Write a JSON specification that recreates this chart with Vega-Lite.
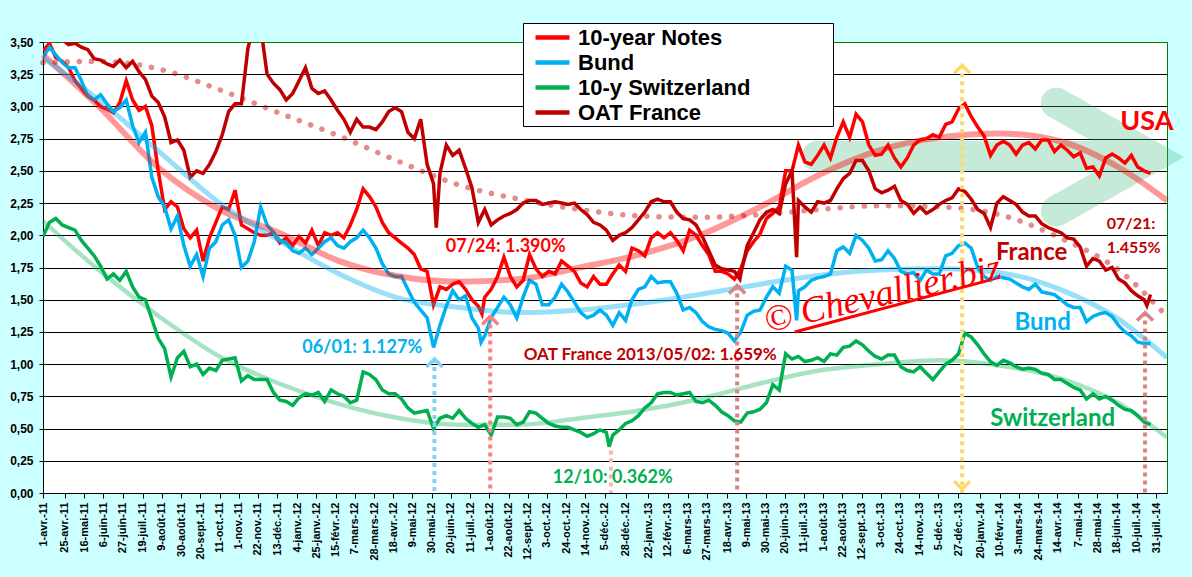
{
  "$schema": "https://vega.github.io/schema/vega-lite/v6.json",
  "width": 1124,
  "height": 451,
  "autosize": {"type": "none"},
  "padding": {"left": 43, "top": 42, "right": 25, "bottom": 84},
  "background": "#CCFFFF",
  "datasets": {
    "us": [
      {"d":"2011-04-01","v":3.43},{"d":"2011-04-08","v":3.49},{"d":"2011-04-15","v":3.38},{"d":"2011-04-22","v":3.35},{"d":"2011-04-29","v":3.30},{"d":"2011-05-06","v":3.20},{"d":"2011-05-13","v":3.14},{"d":"2011-05-20","v":3.08},{"d":"2011-05-27","v":3.05},{"d":"2011-06-03","v":3.00},
      {"d":"2011-06-10","v":2.98},{"d":"2011-06-17","v":2.95},{"d":"2011-06-24","v":3.03},{"d":"2011-07-01","v":3.20},{"d":"2011-07-08","v":3.05},{"d":"2011-07-15","v":2.97},{"d":"2011-07-22","v":3.00},{"d":"2011-07-29","v":2.85},{"d":"2011-08-05","v":2.50},{"d":"2011-08-12","v":2.20},
      {"d":"2011-08-19","v":2.26},{"d":"2011-08-26","v":2.22},{"d":"2011-09-02","v":2.05},{"d":"2011-09-09","v":1.98},{"d":"2011-09-16","v":2.04},{"d":"2011-09-23","v":1.80},{"d":"2011-09-30","v":1.98},{"d":"2011-10-07","v":2.10},{"d":"2011-10-14","v":2.22},{"d":"2011-10-21","v":2.20},
      {"d":"2011-10-28","v":2.35},{"d":"2011-11-04","v":2.08},{"d":"2011-11-11","v":2.05},{"d":"2011-11-18","v":2.02},{"d":"2011-11-25","v":2.00},{"d":"2011-12-02","v":2.00},{"d":"2011-12-09","v":2.02},{"d":"2011-12-16","v":1.94},{"d":"2011-12-23","v":1.98},{"d":"2011-12-30","v":1.92},
      {"d":"2012-01-06","v":1.99},{"d":"2012-01-13","v":1.94},{"d":"2012-01-20","v":2.04},{"d":"2012-01-27","v":1.92},{"d":"2012-02-03","v":2.02},{"d":"2012-02-10","v":2.00},{"d":"2012-02-17","v":2.02},{"d":"2012-02-24","v":1.98},{"d":"2012-03-02","v":2.08},{"d":"2012-03-09","v":2.20},
      {"d":"2012-03-16","v":2.36},{"d":"2012-03-23","v":2.30},{"d":"2012-03-30","v":2.22},{"d":"2012-04-06","v":2.10},{"d":"2012-04-13","v":2.02},{"d":"2012-04-20","v":1.98},{"d":"2012-04-27","v":1.94},{"d":"2012-05-04","v":1.90},{"d":"2012-05-11","v":1.85},{"d":"2012-05-18","v":1.74},
      {"d":"2012-05-25","v":1.72},{"d":"2012-06-01","v":1.46},{"d":"2012-06-08","v":1.60},{"d":"2012-06-15","v":1.58},{"d":"2012-06-22","v":1.62},{"d":"2012-06-29","v":1.64},{"d":"2012-07-06","v":1.58},{"d":"2012-07-13","v":1.50},{"d":"2012-07-20","v":1.45},{"d":"2012-07-27","v":1.52},
      {"d":"2012-08-03","v":1.58},{"d":"2012-08-10","v":1.68},{"d":"2012-08-17","v":1.83},{"d":"2012-08-24","v":1.68},{"d":"2012-08-31","v":1.60},{"d":"2012-09-07","v":1.65},{"d":"2012-09-14","v":1.85},{"d":"2012-09-21","v":1.74},{"d":"2012-09-28","v":1.68},{"d":"2012-10-05","v":1.72},
      {"d":"2012-10-12","v":1.70},{"d":"2012-10-19","v":1.80},{"d":"2012-10-26","v":1.76},{"d":"2012-11-02","v":1.72},{"d":"2012-11-09","v":1.63},{"d":"2012-11-16","v":1.60},{"d":"2012-11-23","v":1.68},{"d":"2012-11-30","v":1.62},{"d":"2012-12-07","v":1.62},{"d":"2012-12-14","v":1.70},
      {"d":"2012-12-21","v":1.77},{"d":"2012-12-28","v":1.72},{"d":"2013-01-04","v":1.90},{"d":"2013-01-11","v":1.88},{"d":"2013-01-18","v":1.84},{"d":"2013-01-25","v":1.98},{"d":"2013-02-01","v":2.02},{"d":"2013-02-08","v":1.98},{"d":"2013-02-15","v":2.02},{"d":"2013-02-22","v":1.96},
      {"d":"2013-03-01","v":1.88},{"d":"2013-03-08","v":2.04},{"d":"2013-03-15","v":2.00},{"d":"2013-03-22","v":1.92},{"d":"2013-03-29","v":1.85},{"d":"2013-04-05","v":1.72},{"d":"2013-04-12","v":1.72},{"d":"2013-04-19","v":1.70},{"d":"2013-04-26","v":1.66},{"d":"2013-05-03","v":1.74},
      {"d":"2013-05-10","v":1.88},{"d":"2013-05-17","v":1.95},{"d":"2013-05-24","v":2.01},{"d":"2013-05-31","v":2.13},{"d":"2013-06-07","v":2.17},{"d":"2013-06-14","v":2.22},{"d":"2013-06-21","v":2.50},{"d":"2013-06-28","v":2.50},{"d":"2013-07-05","v":2.70},{"d":"2013-07-12","v":2.57},
      {"d":"2013-07-19","v":2.55},{"d":"2013-07-26","v":2.62},{"d":"2013-08-02","v":2.70},{"d":"2013-08-09","v":2.60},{"d":"2013-08-16","v":2.76},{"d":"2013-08-23","v":2.88},{"d":"2013-08-30","v":2.76},{"d":"2013-09-06","v":2.94},{"d":"2013-09-13","v":2.88},{"d":"2013-09-20","v":2.70},
      {"d":"2013-09-27","v":2.62},{"d":"2013-10-04","v":2.63},{"d":"2013-10-11","v":2.70},{"d":"2013-10-18","v":2.60},{"d":"2013-10-25","v":2.53},{"d":"2013-11-01","v":2.60},{"d":"2013-11-08","v":2.70},{"d":"2013-11-15","v":2.74},{"d":"2013-11-22","v":2.75},{"d":"2013-11-29","v":2.78},
      {"d":"2013-12-06","v":2.76},{"d":"2013-12-13","v":2.86},{"d":"2013-12-20","v":2.88},{"d":"2013-12-27","v":2.98},{"d":"2014-01-03","v":3.02},{"d":"2014-01-10","v":2.92},{"d":"2014-01-17","v":2.84},{"d":"2014-01-24","v":2.77},{"d":"2014-01-31","v":2.62},{"d":"2014-02-07","v":2.70},
      {"d":"2014-02-14","v":2.73},{"d":"2014-02-21","v":2.70},{"d":"2014-02-28","v":2.63},{"d":"2014-03-07","v":2.70},{"d":"2014-03-14","v":2.72},{"d":"2014-03-21","v":2.67},{"d":"2014-03-28","v":2.74},{"d":"2014-04-04","v":2.74},{"d":"2014-04-11","v":2.65},{"d":"2014-04-18","v":2.70},
      {"d":"2014-04-25","v":2.66},{"d":"2014-05-02","v":2.61},{"d":"2014-05-09","v":2.64},{"d":"2014-05-16","v":2.52},{"d":"2014-05-23","v":2.53},{"d":"2014-05-30","v":2.46},{"d":"2014-06-06","v":2.60},{"d":"2014-06-13","v":2.63},{"d":"2014-06-20","v":2.60},{"d":"2014-06-27","v":2.56},
      {"d":"2014-07-04","v":2.62},{"d":"2014-07-11","v":2.53},{"d":"2014-07-18","v":2.50},{"d":"2014-07-25","v":2.48},
      {"d":"2012-07-24","v":1.39}
    ],
    "de": [
      {"d":"2011-04-01","v":3.38},{"d":"2011-04-08","v":3.46},{"d":"2011-04-15","v":3.40},{"d":"2011-04-22","v":3.34},{"d":"2011-04-29","v":3.30},{"d":"2011-05-06","v":3.30},{"d":"2011-05-13","v":3.20},{"d":"2011-05-20","v":3.08},{"d":"2011-05-27","v":3.05},{"d":"2011-06-03","v":3.09},
      {"d":"2011-06-10","v":3.02},{"d":"2011-06-17","v":2.96},{"d":"2011-06-24","v":2.99},{"d":"2011-07-01","v":3.05},{"d":"2011-07-08","v":2.85},{"d":"2011-07-15","v":2.72},{"d":"2011-07-22","v":2.80},{"d":"2011-07-29","v":2.45},{"d":"2011-08-05","v":2.30},{"d":"2011-08-12","v":2.22},
      {"d":"2011-08-19","v":2.05},{"d":"2011-08-26","v":2.15},{"d":"2011-09-02","v":1.92},{"d":"2011-09-09","v":1.76},{"d":"2011-09-16","v":1.85},{"d":"2011-09-23","v":1.68},{"d":"2011-09-30","v":1.90},{"d":"2011-10-07","v":1.95},{"d":"2011-10-14","v":2.08},{"d":"2011-10-21","v":2.12},
      {"d":"2011-10-28","v":2.00},{"d":"2011-11-04","v":1.75},{"d":"2011-11-11","v":1.80},{"d":"2011-11-18","v":1.95},{"d":"2011-11-25","v":2.22},{"d":"2011-12-02","v":2.08},{"d":"2011-12-09","v":2.02},{"d":"2011-12-16","v":1.96},{"d":"2011-12-23","v":1.94},{"d":"2011-12-30","v":1.88},
      {"d":"2012-01-06","v":1.86},{"d":"2012-01-13","v":1.90},{"d":"2012-01-20","v":1.85},{"d":"2012-01-27","v":1.90},{"d":"2012-02-03","v":1.95},{"d":"2012-02-10","v":1.98},{"d":"2012-02-17","v":1.92},{"d":"2012-02-24","v":1.90},{"d":"2012-03-02","v":1.95},{"d":"2012-03-09","v":1.98},
      {"d":"2012-03-16","v":2.04},{"d":"2012-03-23","v":1.98},{"d":"2012-03-30","v":1.90},{"d":"2012-04-06","v":1.78},{"d":"2012-04-13","v":1.70},{"d":"2012-04-20","v":1.68},{"d":"2012-04-27","v":1.68},{"d":"2012-05-04","v":1.58},{"d":"2012-05-11","v":1.48},{"d":"2012-05-18","v":1.42},
      {"d":"2012-05-25","v":1.36},{"d":"2012-06-01","v":1.13},{"d":"2012-06-08","v":1.30},{"d":"2012-06-15","v":1.45},{"d":"2012-06-22","v":1.57},{"d":"2012-06-29","v":1.50},{"d":"2012-07-06","v":1.53},{"d":"2012-07-13","v":1.36},{"d":"2012-07-20","v":1.28},{"d":"2012-07-27","v":1.22},
      {"d":"2012-08-03","v":1.36},{"d":"2012-08-10","v":1.44},{"d":"2012-08-17","v":1.52},{"d":"2012-08-24","v":1.46},{"d":"2012-08-31","v":1.36},{"d":"2012-09-07","v":1.52},{"d":"2012-09-14","v":1.65},{"d":"2012-09-21","v":1.62},{"d":"2012-09-28","v":1.46},{"d":"2012-10-05","v":1.46},
      {"d":"2012-10-12","v":1.52},{"d":"2012-10-19","v":1.62},{"d":"2012-10-26","v":1.56},{"d":"2012-11-02","v":1.48},{"d":"2012-11-09","v":1.40},{"d":"2012-11-16","v":1.36},{"d":"2012-11-23","v":1.38},{"d":"2012-11-30","v":1.42},{"d":"2012-12-07","v":1.38},{"d":"2012-12-14","v":1.30},
      {"d":"2012-12-21","v":1.40},{"d":"2012-12-28","v":1.34},{"d":"2013-01-04","v":1.50},{"d":"2013-01-11","v":1.58},{"d":"2013-01-18","v":1.60},{"d":"2013-01-25","v":1.68},{"d":"2013-02-01","v":1.63},{"d":"2013-02-08","v":1.64},{"d":"2013-02-15","v":1.64},{"d":"2013-02-22","v":1.55},
      {"d":"2013-03-01","v":1.42},{"d":"2013-03-08","v":1.44},{"d":"2013-03-15","v":1.40},{"d":"2013-03-22","v":1.33},{"d":"2013-03-29","v":1.29},{"d":"2013-04-05","v":1.27},{"d":"2013-04-12","v":1.26},{"d":"2013-04-19","v":1.24},{"d":"2013-04-26","v":1.18},{"d":"2013-05-03","v":1.25},
      {"d":"2013-05-10","v":1.38},{"d":"2013-05-17","v":1.41},{"d":"2013-05-24","v":1.42},{"d":"2013-05-31","v":1.52},{"d":"2013-06-07","v":1.60},{"d":"2013-06-14","v":1.55},{"d":"2013-06-21","v":1.76},{"d":"2013-06-28","v":1.73},{"d":"2013-07-05","v":1.57},{"d":"2013-07-12","v":1.60},
      {"d":"2013-07-19","v":1.65},{"d":"2013-07-26","v":1.67},{"d":"2013-08-02","v":1.68},{"d":"2013-08-09","v":1.70},{"d":"2013-08-16","v":1.88},{"d":"2013-08-23","v":1.91},{"d":"2013-08-30","v":1.86},{"d":"2013-09-06","v":2.00},{"d":"2013-09-13","v":1.96},{"d":"2013-09-20","v":1.90},
      {"d":"2013-09-27","v":1.80},{"d":"2013-10-04","v":1.81},{"d":"2013-10-11","v":1.88},{"d":"2013-10-18","v":1.82},{"d":"2013-10-25","v":1.72},{"d":"2013-11-01","v":1.70},{"d":"2013-11-08","v":1.71},{"d":"2013-11-15","v":1.65},{"d":"2013-11-22","v":1.73},{"d":"2013-11-29","v":1.70},
      {"d":"2013-12-06","v":1.70},{"d":"2013-12-13","v":1.84},{"d":"2013-12-20","v":1.86},{"d":"2013-12-27","v":1.92},{"d":"2014-01-03","v":1.94},{"d":"2014-01-10","v":1.90},{"d":"2014-01-17","v":1.75},{"d":"2014-01-24","v":1.68},{"d":"2014-01-31","v":1.65},{"d":"2014-02-07","v":1.68},
      {"d":"2014-02-14","v":1.67},{"d":"2014-02-21","v":1.66},{"d":"2014-02-28","v":1.63},{"d":"2014-03-07","v":1.60},{"d":"2014-03-14","v":1.58},{"d":"2014-03-21","v":1.62},{"d":"2014-03-28","v":1.56},{"d":"2014-04-04","v":1.55},{"d":"2014-04-11","v":1.54},{"d":"2014-04-18","v":1.50},
      {"d":"2014-04-25","v":1.46},{"d":"2014-05-02","v":1.44},{"d":"2014-05-09","v":1.44},{"d":"2014-05-16","v":1.33},{"d":"2014-05-23","v":1.37},{"d":"2014-05-30","v":1.39},{"d":"2014-06-06","v":1.40},{"d":"2014-06-13","v":1.37},{"d":"2014-06-20","v":1.30},{"d":"2014-06-27","v":1.25},
      {"d":"2014-07-04","v":1.22},{"d":"2014-07-11","v":1.17},{"d":"2014-07-18","v":1.16},{"d":"2014-07-25","v":1.16},
      {"d":"2012-07-23","v":1.17},{"d":"2013-07-03","v":1.34}
    ],
    "ch": [
      {"d":"2011-04-01","v":1.99},{"d":"2011-04-08","v":2.10},{"d":"2011-04-15","v":2.13},{"d":"2011-04-22","v":2.08},{"d":"2011-04-29","v":2.06},{"d":"2011-05-06","v":2.04},{"d":"2011-05-13","v":1.96},{"d":"2011-05-20","v":1.90},{"d":"2011-05-27","v":1.84},{"d":"2011-06-03","v":1.76},
      {"d":"2011-06-10","v":1.66},{"d":"2011-06-17","v":1.70},{"d":"2011-06-24","v":1.65},{"d":"2011-07-01","v":1.72},{"d":"2011-07-08","v":1.60},{"d":"2011-07-15","v":1.52},{"d":"2011-07-22","v":1.50},{"d":"2011-07-29","v":1.35},{"d":"2011-08-05","v":1.20},{"d":"2011-08-12","v":1.12},
      {"d":"2011-08-19","v":0.90},{"d":"2011-08-26","v":1.05},{"d":"2011-09-02","v":1.10},{"d":"2011-09-09","v":0.98},{"d":"2011-09-16","v":1.00},{"d":"2011-09-23","v":0.92},{"d":"2011-09-30","v":0.97},{"d":"2011-10-07","v":0.95},{"d":"2011-10-14","v":1.03},{"d":"2011-10-21","v":1.04},
      {"d":"2011-10-28","v":1.05},{"d":"2011-11-04","v":0.87},{"d":"2011-11-11","v":0.91},{"d":"2011-11-18","v":0.88},{"d":"2011-11-25","v":0.88},{"d":"2011-12-02","v":0.88},{"d":"2011-12-09","v":0.78},{"d":"2011-12-16","v":0.72},{"d":"2011-12-23","v":0.71},{"d":"2011-12-30","v":0.68},
      {"d":"2012-01-06","v":0.74},{"d":"2012-01-13","v":0.77},{"d":"2012-01-20","v":0.76},{"d":"2012-01-27","v":0.78},{"d":"2012-02-03","v":0.71},{"d":"2012-02-10","v":0.80},{"d":"2012-02-17","v":0.77},{"d":"2012-02-24","v":0.75},{"d":"2012-03-02","v":0.70},{"d":"2012-03-09","v":0.72},
      {"d":"2012-03-16","v":0.94},{"d":"2012-03-23","v":0.92},{"d":"2012-03-30","v":0.88},{"d":"2012-04-06","v":0.80},{"d":"2012-04-13","v":0.77},{"d":"2012-04-20","v":0.77},{"d":"2012-04-27","v":0.73},{"d":"2012-05-04","v":0.66},{"d":"2012-05-11","v":0.62},{"d":"2012-05-18","v":0.63},
      {"d":"2012-05-25","v":0.64},{"d":"2012-06-01","v":0.50},{"d":"2012-06-08","v":0.58},{"d":"2012-06-15","v":0.60},{"d":"2012-06-22","v":0.58},{"d":"2012-06-29","v":0.64},{"d":"2012-07-06","v":0.58},{"d":"2012-07-13","v":0.54},{"d":"2012-07-20","v":0.51},{"d":"2012-07-27","v":0.53},
      {"d":"2012-08-03","v":0.45},{"d":"2012-08-10","v":0.59},{"d":"2012-08-17","v":0.59},{"d":"2012-08-24","v":0.58},{"d":"2012-08-31","v":0.53},{"d":"2012-09-07","v":0.55},{"d":"2012-09-14","v":0.63},{"d":"2012-09-21","v":0.62},{"d":"2012-09-28","v":0.58},{"d":"2012-10-05","v":0.54},
      {"d":"2012-10-12","v":0.52},{"d":"2012-10-19","v":0.51},{"d":"2012-10-26","v":0.51},{"d":"2012-11-02","v":0.49},{"d":"2012-11-09","v":0.47},{"d":"2012-11-16","v":0.44},{"d":"2012-11-23","v":0.46},{"d":"2012-11-30","v":0.49},{"d":"2012-12-07","v":0.47},{"d":"2012-12-14","v":0.45},
      {"d":"2012-12-21","v":0.49},{"d":"2012-12-28","v":0.54},{"d":"2013-01-04","v":0.56},{"d":"2013-01-11","v":0.60},{"d":"2013-01-18","v":0.66},{"d":"2013-01-25","v":0.70},{"d":"2013-02-01","v":0.77},{"d":"2013-02-08","v":0.78},{"d":"2013-02-15","v":0.78},{"d":"2013-02-22","v":0.76},
      {"d":"2013-03-01","v":0.77},{"d":"2013-03-08","v":0.78},{"d":"2013-03-15","v":0.71},{"d":"2013-03-22","v":0.70},{"d":"2013-03-29","v":0.72},{"d":"2013-04-05","v":0.68},{"d":"2013-04-12","v":0.63},{"d":"2013-04-19","v":0.60},{"d":"2013-04-26","v":0.56},{"d":"2013-05-03","v":0.55},
      {"d":"2013-05-10","v":0.62},{"d":"2013-05-17","v":0.63},{"d":"2013-05-24","v":0.65},{"d":"2013-05-31","v":0.70},{"d":"2013-06-07","v":0.84},{"d":"2013-06-14","v":0.80},{"d":"2013-06-21","v":1.08},{"d":"2013-06-28","v":1.04},{"d":"2013-07-05","v":1.06},{"d":"2013-07-12","v":1.02},
      {"d":"2013-07-19","v":1.03},{"d":"2013-07-26","v":1.05},{"d":"2013-08-02","v":1.02},{"d":"2013-08-09","v":1.08},{"d":"2013-08-16","v":1.07},{"d":"2013-08-23","v":1.13},{"d":"2013-08-30","v":1.14},{"d":"2013-09-06","v":1.18},{"d":"2013-09-13","v":1.15},{"d":"2013-09-20","v":1.10},
      {"d":"2013-09-27","v":1.06},{"d":"2013-10-04","v":1.04},{"d":"2013-10-11","v":1.07},{"d":"2013-10-18","v":1.07},{"d":"2013-10-25","v":0.98},{"d":"2013-11-01","v":0.95},{"d":"2013-11-08","v":0.94},{"d":"2013-11-15","v":0.98},{"d":"2013-11-22","v":0.93},{"d":"2013-11-29","v":0.88},
      {"d":"2013-12-06","v":0.94},{"d":"2013-12-13","v":1.00},{"d":"2013-12-20","v":1.03},{"d":"2013-12-27","v":1.08},{"d":"2014-01-03","v":1.24},{"d":"2014-01-10","v":1.21},{"d":"2014-01-17","v":1.15},{"d":"2014-01-24","v":1.08},{"d":"2014-01-31","v":1.02},{"d":"2014-02-07","v":0.99},
      {"d":"2014-02-14","v":1.03},{"d":"2014-02-21","v":1.01},{"d":"2014-02-28","v":0.98},{"d":"2014-03-07","v":0.96},{"d":"2014-03-14","v":0.97},{"d":"2014-03-21","v":0.96},{"d":"2014-03-28","v":0.93},{"d":"2014-04-04","v":0.92},{"d":"2014-04-11","v":0.88},{"d":"2014-04-18","v":0.88},
      {"d":"2014-04-25","v":0.85},{"d":"2014-05-02","v":0.82},{"d":"2014-05-09","v":0.80},{"d":"2014-05-16","v":0.73},{"d":"2014-05-23","v":0.77},{"d":"2014-05-30","v":0.73},{"d":"2014-06-06","v":0.75},{"d":"2014-06-13","v":0.72},{"d":"2014-06-20","v":0.68},{"d":"2014-06-27","v":0.65},
      {"d":"2014-07-04","v":0.64},{"d":"2014-07-11","v":0.60},{"d":"2014-07-18","v":0.55},{"d":"2014-07-25","v":0.53},
      {"d":"2012-12-10","v":0.36}
    ],
    "fr": [
      {"d":"2011-04-01","v":3.62},{"d":"2011-04-08","v":3.60},{"d":"2011-04-15","v":3.56},{"d":"2011-04-22","v":3.52},{"d":"2011-04-29","v":3.48},{"d":"2011-05-06","v":3.49},{"d":"2011-05-13","v":3.46},{"d":"2011-05-20","v":3.44},{"d":"2011-05-27","v":3.37},{"d":"2011-06-03","v":3.36},
      {"d":"2011-06-10","v":3.33},{"d":"2011-06-17","v":3.31},{"d":"2011-06-24","v":3.36},{"d":"2011-07-01","v":3.30},{"d":"2011-07-08","v":3.35},{"d":"2011-07-15","v":3.27},{"d":"2011-07-22","v":3.21},{"d":"2011-07-29","v":3.08},{"d":"2011-08-05","v":3.03},{"d":"2011-08-12","v":2.92},
      {"d":"2011-08-19","v":2.72},{"d":"2011-08-26","v":2.74},{"d":"2011-09-02","v":2.66},{"d":"2011-09-09","v":2.45},{"d":"2011-09-16","v":2.50},{"d":"2011-09-23","v":2.48},{"d":"2011-09-30","v":2.55},{"d":"2011-10-07","v":2.65},{"d":"2011-10-14","v":2.78},{"d":"2011-10-21","v":2.96},
      {"d":"2011-10-28","v":3.02},{"d":"2011-11-04","v":3.02},{"d":"2011-11-11","v":3.45},{"d":"2011-11-18","v":3.65},{"d":"2011-11-25","v":3.62},{"d":"2011-12-02","v":3.25},{"d":"2011-12-09","v":3.18},{"d":"2011-12-16","v":3.13},{"d":"2011-12-23","v":3.05},{"d":"2011-12-30","v":3.10},
      {"d":"2012-01-06","v":3.20},{"d":"2012-01-13","v":3.30},{"d":"2012-01-20","v":3.14},{"d":"2012-01-27","v":3.10},{"d":"2012-02-03","v":3.12},{"d":"2012-02-10","v":3.05},{"d":"2012-02-17","v":2.97},{"d":"2012-02-24","v":2.90},{"d":"2012-03-02","v":2.80},{"d":"2012-03-09","v":2.90},
      {"d":"2012-03-16","v":2.84},{"d":"2012-03-23","v":2.84},{"d":"2012-03-30","v":2.82},{"d":"2012-04-06","v":2.88},{"d":"2012-04-13","v":2.96},{"d":"2012-04-20","v":2.99},{"d":"2012-04-27","v":2.96},{"d":"2012-05-04","v":2.80},{"d":"2012-05-11","v":2.75},{"d":"2012-05-18","v":2.90},
      {"d":"2012-05-25","v":2.55},{"d":"2012-06-01","v":2.40},{"d":"2012-06-08","v":2.48},{"d":"2012-06-15","v":2.70},{"d":"2012-06-22","v":2.62},{"d":"2012-06-29","v":2.66},{"d":"2012-07-06","v":2.52},{"d":"2012-07-13","v":2.37},{"d":"2012-07-20","v":2.10},{"d":"2012-07-27","v":2.20},
      {"d":"2012-08-03","v":2.08},{"d":"2012-08-10","v":2.12},{"d":"2012-08-17","v":2.15},{"d":"2012-08-24","v":2.17},{"d":"2012-08-31","v":2.20},{"d":"2012-09-07","v":2.25},{"d":"2012-09-14","v":2.27},{"d":"2012-09-21","v":2.27},{"d":"2012-09-28","v":2.24},{"d":"2012-10-05","v":2.25},
      {"d":"2012-10-12","v":2.26},{"d":"2012-10-19","v":2.25},{"d":"2012-10-26","v":2.24},{"d":"2012-11-02","v":2.25},{"d":"2012-11-09","v":2.20},{"d":"2012-11-16","v":2.16},{"d":"2012-11-23","v":2.10},{"d":"2012-11-30","v":2.08},{"d":"2012-12-07","v":2.04},{"d":"2012-12-14","v":1.96},
      {"d":"2012-12-21","v":2.00},{"d":"2012-12-28","v":2.02},{"d":"2013-01-04","v":2.06},{"d":"2013-01-11","v":2.12},{"d":"2013-01-18","v":2.18},{"d":"2013-01-25","v":2.26},{"d":"2013-02-01","v":2.28},{"d":"2013-02-08","v":2.26},{"d":"2013-02-15","v":2.26},{"d":"2013-02-22","v":2.18},
      {"d":"2013-03-01","v":2.13},{"d":"2013-03-08","v":2.12},{"d":"2013-03-15","v":2.08},{"d":"2013-03-22","v":1.99},{"d":"2013-03-29","v":1.88},{"d":"2013-04-05","v":1.77},{"d":"2013-04-12","v":1.74},{"d":"2013-04-19","v":1.73},{"d":"2013-04-26","v":1.72},{"d":"2013-05-03","v":1.70},
      {"d":"2013-05-10","v":1.92},{"d":"2013-05-17","v":2.02},{"d":"2013-05-24","v":2.12},{"d":"2013-05-31","v":2.18},{"d":"2013-06-07","v":2.20},{"d":"2013-06-14","v":2.17},{"d":"2013-06-21","v":2.40},{"d":"2013-06-28","v":2.50},{"d":"2013-07-05","v":2.27},{"d":"2013-07-12","v":2.22},
      {"d":"2013-07-19","v":2.18},{"d":"2013-07-26","v":2.26},{"d":"2013-08-02","v":2.25},{"d":"2013-08-09","v":2.27},{"d":"2013-08-16","v":2.36},{"d":"2013-08-23","v":2.44},{"d":"2013-08-30","v":2.48},{"d":"2013-09-06","v":2.58},{"d":"2013-09-13","v":2.58},{"d":"2013-09-20","v":2.50},
      {"d":"2013-09-27","v":2.36},{"d":"2013-10-04","v":2.33},{"d":"2013-10-11","v":2.35},{"d":"2013-10-18","v":2.38},{"d":"2013-10-25","v":2.27},{"d":"2013-11-01","v":2.24},{"d":"2013-11-08","v":2.17},{"d":"2013-11-15","v":2.22},{"d":"2013-11-22","v":2.17},{"d":"2013-11-29","v":2.20},
      {"d":"2013-12-06","v":2.24},{"d":"2013-12-13","v":2.27},{"d":"2013-12-20","v":2.29},{"d":"2013-12-27","v":2.36},{"d":"2014-01-03","v":2.34},{"d":"2014-01-10","v":2.28},{"d":"2014-01-17","v":2.20},{"d":"2014-01-24","v":2.17},{"d":"2014-01-31","v":2.06},{"d":"2014-02-07","v":2.25},
      {"d":"2014-02-14","v":2.30},{"d":"2014-02-21","v":2.27},{"d":"2014-02-28","v":2.24},{"d":"2014-03-07","v":2.18},{"d":"2014-03-14","v":2.15},{"d":"2014-03-21","v":2.15},{"d":"2014-03-28","v":2.09},{"d":"2014-04-04","v":2.06},{"d":"2014-04-11","v":2.04},{"d":"2014-04-18","v":2.02},
      {"d":"2014-04-25","v":1.98},{"d":"2014-05-02","v":1.97},{"d":"2014-05-09","v":1.91},{"d":"2014-05-16","v":1.76},{"d":"2014-05-23","v":1.82},{"d":"2014-05-30","v":1.80},{"d":"2014-06-06","v":1.73},{"d":"2014-06-13","v":1.75},{"d":"2014-06-20","v":1.66},{"d":"2014-06-27","v":1.63},
      {"d":"2014-07-04","v":1.57},{"d":"2014-07-11","v":1.53},{"d":"2014-07-18","v":1.50},{"d":"2014-07-25","v":1.54},
      {"d":"2012-06-04","v":2.06},{"d":"2013-05-02","v":1.66},{"d":"2013-07-03","v":1.83},{"d":"2014-07-21","v":1.455}
    ],
    "trend": [
      {"d":"2011-04-01","us":3.40,"de":3.38,"ch":2.11,"fr":3.34},
      {"d":"2011-06-01","us":3.00,"de":3.05,"ch":1.73,"fr":3.35},
      {"d":"2011-08-06","us":2.52,"de":2.65,"ch":1.37,"fr":3.29},
      {"d":"2011-10-11","us":2.20,"de":2.25,"ch":1.06,"fr":3.13},
      {"d":"2011-12-15","us":2.02,"de":1.96,"ch":0.85,"fr":2.95},
      {"d":"2012-02-19","us":1.80,"de":1.70,"ch":0.69,"fr":2.77},
      {"d":"2012-04-25","us":1.68,"de":1.51,"ch":0.58,"fr":2.57},
      {"d":"2012-06-29","us":1.64,"de":1.44,"ch":0.53,"fr":2.39},
      {"d":"2012-09-03","us":1.66,"de":1.40,"ch":0.53,"fr":2.28},
      {"d":"2012-11-08","us":1.75,"de":1.42,"ch":0.58,"fr":2.20},
      {"d":"2013-01-12","us":1.85,"de":1.47,"ch":0.64,"fr":2.15},
      {"d":"2013-03-19","us":2.00,"de":1.54,"ch":0.73,"fr":2.14},
      {"d":"2013-05-24","us":2.22,"de":1.62,"ch":0.85,"fr":2.16},
      {"d":"2013-07-28","us":2.47,"de":1.69,"ch":0.95,"fr":2.20},
      {"d":"2013-10-02","us":2.66,"de":1.73,"ch":1.00,"fr":2.23},
      {"d":"2013-12-07","us":2.76,"de":1.74,"ch":1.03,"fr":2.22},
      {"d":"2014-02-10","us":2.79,"de":1.71,"ch":0.99,"fr":2.16},
      {"d":"2014-04-17","us":2.73,"de":1.58,"ch":0.89,"fr":1.98},
      {"d":"2014-06-22","us":2.52,"de":1.34,"ch":0.69,"fr":1.72},
      {"d":"2014-08-12","us":2.27,"de":1.05,"ch":0.43,"fr":1.37}
    ],
    "arrows": [
      {"d":"2012-06-02","v":1.04,"k":"a1"},
      {"d":"2012-08-02","v":1.37,"k":"a2"},
      {"d":"2012-12-12","v":0.33,"k":"a3"},
      {"d":"2013-04-29","v":1.61,"k":"a4"},
      {"d":"2013-12-31","v":3.32,"k":"a5"},
      {"d":"2014-07-19","v":1.40,"k":"a6"}
    ],
    "downhead": [{"d":"2013-12-31","v":0.03}],
    "bigarrow": [
      {"d":"2014-04-13","v":2.188},
      {"d":"2014-07-27","v":2.607},
      {"d":"2014-04-13","v":3.026},
      {"d":"2014-04-13","v":null},
      {"d":"2013-07-26","v":2.614},
      {"d":"2014-06-22","v":2.614}
    ],
    "underline": [
      {"d":"2013-07-01","v":1.249},
      {"d":"2014-01-30","v":1.652}
    ],
    "notes": [
      {"d":"2012-08-19","v":1.908,"t":"07/24: 1.390%"},
      {"d":"2012-03-15","v":1.125,"t":"06/01: 1.127%"},
      {"d":"2013-01-24","v":1.071,"t":"OAT France 2013/05/02: 1.659%"},
      {"d":"2012-12-14","v":0.116,"t":"12/10: 0.362%"},
      {"d":"2014-07-21","v":2.878,"t":"USA"},
      {"d":"2014-03-17","v":1.862,"t":"France"},
      {"d":"2014-03-29","v":1.319,"t":"Bund"},
      {"d":"2014-04-09","v":0.574,"t":"Switzerland"},
      {"d":"2014-06-07","v":2.087,"t":"07/21:"},
      {"d":"2014-06-07","v":1.901,"t":"1.455%"},
      {"d":"2013-10-05","v":1.54,"t":"© Chevallier.biz"}
    ]
  },
  "encoding": {
    "x": {
      "field": "d",
      "type": "temporal",
      "scale": {"type": "utc", "domain": [{"year":2011,"month":4,"date":1,"utc":true},{"year":2014,"month":8,"date":12,"utc":true}]},
      "axis": {
        "title": null,
        "grid": false,
        "format": "%-d-%b-%y",
        "labelAngle": 270,
        "labelFont": "Liberation Sans",
        "labelFontWeight": "bold",
        "labelFontSize": 11,
        "labelColor": "black",
        "labelOverlap": false,
        "labelFlush": false,
        "labelBound": false,
        "labelPadding": 4,
        "tickColor": "black",
        "tickSize": 5,
        "domainColor": "black",
        "values": [
          {"year":2011,"month":4,"date":1,"utc":true},{"year":2011,"month":4,"date":25,"utc":true},{"year":2011,"month":5,"date":16,"utc":true},{"year":2011,"month":6,"date":6,"utc":true},{"year":2011,"month":6,"date":27,"utc":true},{"year":2011,"month":7,"date":19,"utc":true},{"year":2011,"month":8,"date":9,"utc":true},{"year":2011,"month":8,"date":30,"utc":true},{"year":2011,"month":9,"date":20,"utc":true},{"year":2011,"month":10,"date":11,"utc":true},{"year":2011,"month":11,"date":1,"utc":true},{"year":2011,"month":11,"date":22,"utc":true},{"year":2011,"month":12,"date":13,"utc":true},
          {"year":2012,"month":1,"date":4,"utc":true},{"year":2012,"month":1,"date":25,"utc":true},{"year":2012,"month":2,"date":15,"utc":true},{"year":2012,"month":3,"date":7,"utc":true},{"year":2012,"month":3,"date":28,"utc":true},{"year":2012,"month":4,"date":18,"utc":true},{"year":2012,"month":5,"date":9,"utc":true},{"year":2012,"month":5,"date":30,"utc":true},{"year":2012,"month":6,"date":20,"utc":true},{"year":2012,"month":7,"date":11,"utc":true},{"year":2012,"month":8,"date":1,"utc":true},{"year":2012,"month":8,"date":22,"utc":true},{"year":2012,"month":9,"date":12,"utc":true},{"year":2012,"month":10,"date":3,"utc":true},{"year":2012,"month":10,"date":24,"utc":true},{"year":2012,"month":11,"date":14,"utc":true},{"year":2012,"month":12,"date":5,"utc":true},{"year":2012,"month":12,"date":28,"utc":true},
          {"year":2013,"month":1,"date":22,"utc":true},{"year":2013,"month":2,"date":12,"utc":true},{"year":2013,"month":3,"date":6,"utc":true},{"year":2013,"month":3,"date":27,"utc":true},{"year":2013,"month":4,"date":18,"utc":true},{"year":2013,"month":5,"date":9,"utc":true},{"year":2013,"month":5,"date":30,"utc":true},{"year":2013,"month":6,"date":20,"utc":true},{"year":2013,"month":7,"date":11,"utc":true},{"year":2013,"month":8,"date":1,"utc":true},{"year":2013,"month":8,"date":22,"utc":true},{"year":2013,"month":9,"date":12,"utc":true},{"year":2013,"month":10,"date":3,"utc":true},{"year":2013,"month":10,"date":24,"utc":true},{"year":2013,"month":11,"date":14,"utc":true},{"year":2013,"month":12,"date":5,"utc":true},{"year":2013,"month":12,"date":27,"utc":true},
          {"year":2014,"month":1,"date":20,"utc":true},{"year":2014,"month":2,"date":10,"utc":true},{"year":2014,"month":3,"date":3,"utc":true},{"year":2014,"month":3,"date":24,"utc":true},{"year":2014,"month":4,"date":14,"utc":true},{"year":2014,"month":5,"date":7,"utc":true},{"year":2014,"month":5,"date":28,"utc":true},{"year":2014,"month":6,"date":18,"utc":true},{"year":2014,"month":7,"date":10,"utc":true},{"year":2014,"month":7,"date":31,"utc":true}
        ]
      }
    },
    "y": {
      "field": "v",
      "type": "quantitative",
      "scale": {"domain": [0, 3.5], "nice": false, "zero": false},
      "axis": {
        "title": null,
        "values": [0, 0.25, 0.5, 0.75, 1, 1.25, 1.5, 1.75, 2, 2.25, 2.5, 2.75, 3, 3.25, 3.5],
        "format": ".2f",
        "labelFont": "Liberation Sans",
        "labelFontWeight": "bold",
        "labelFontSize": 12,
        "labelColor": "black",
        "labelPadding": 6,
        "tickSize": 4,
        "tickColor": "black",
        "domainColor": "black",
        "grid": true,
        "gridOpacity": 1,
        "gridWidth": 1,
        "gridColor": {"condition": {"test": "datum.value >= 3.49", "value": "#008000"}, "value": "black"}
      }
    }
  },
  "layer": [
    {
      "data": {"name": "bigarrow"},
      "mark": {"type": "line", "color": "#2EB872", "opacity": 0.28, "strokeWidth": 31, "strokeCap": "round", "strokeJoin": "miter", "clip": false, "invalid": "break-paths-show-domains"},
      "encoding": {"order": {"value": null}}
    },
    {
      "data": {"name": "us"},
      "mark": {"type": "line", "strokeWidth": 3.5, "clip": true},
      "encoding": {
        "color": {
          "datum": "10-year Notes",
          "scale": {"domain": ["10-year Notes", "Bund", "10-y Switzerland", "OAT France"], "range": ["#FF0000", "#00B0F0", "#00B050", "#C00000"]},
          "legend": {
            "orient": "none", "legendX": 480, "legendY": -19, "title": " ", "titleOrient": "right", "titlePadding": 81,
            "fillColor": "white", "strokeColor": "black", "padding": 2,
            "symbolType": "M-0.2,0L3.2,0", "symbolSize": 400, "symbolStrokeWidth": 4.5,
            "labelFont": "Liberation Sans", "labelFontSize": 22, "labelFontWeight": "bold", "labelColor": "black",
            "labelOffset": 28, "labelLimit": 400, "rowPadding": 1
          }
        }
      }
    },
    {"data": {"name": "de"}, "mark": {"type": "line", "strokeWidth": 3.5, "clip": true}, "encoding": {"color": {"datum": "Bund"}}},
    {"data": {"name": "ch"}, "mark": {"type": "line", "strokeWidth": 3.5, "clip": true}, "encoding": {"color": {"datum": "10-y Switzerland"}}},
    {"data": {"name": "fr"}, "mark": {"type": "line", "strokeWidth": 3.5, "clip": true}, "encoding": {"color": {"datum": "OAT France"}}},
    {"data": {"name": "trend"}, "mark": {"type": "line", "color": "#FF0000", "opacity": 0.4, "strokeWidth": 6, "interpolate": "monotone"}, "encoding": {"y": {"field": "us", "type": "quantitative"}}},
    {"data": {"name": "trend"}, "mark": {"type": "line", "color": "#00B0F0", "opacity": 0.4, "strokeWidth": 5, "interpolate": "monotone"}, "encoding": {"y": {"field": "de", "type": "quantitative"}}},
    {"data": {"name": "trend"}, "mark": {"type": "line", "color": "#00B050", "opacity": 0.35, "strokeWidth": 4.5, "interpolate": "monotone"}, "encoding": {"y": {"field": "ch", "type": "quantitative"}}},
    {"data": {"name": "trend"}, "mark": {"type": "line", "color": "#C00000", "opacity": 0.45, "strokeWidth": 5.5, "strokeDash": [0.1, 12], "strokeCap": "round", "interpolate": "monotone"}, "encoding": {"y": {"field": "fr", "type": "quantitative"}}},
    {
      "data": {"name": "arrows"},
      "mark": {"type": "rule", "strokeWidth": 4, "strokeDash": [4, 4]},
      "encoding": {
        "y2": {"datum": 0},
        "stroke": {"field": "k", "type": "nominal", "scale": {"domain": ["a1", "a2", "a3", "a4", "a5", "a6"], "range": ["#7FD3F7", "#FF7F7F", "#F4B6B6", "#D98585", "#FFD966", "#D98585"]}, "legend": null}
      }
    },
    {
      "data": {"name": "arrows"},
      "transform": [{"filter": "datum.k != 'a3'"}],
      "mark": {"type": "point", "shape": "M-1,1L0,0L1,1", "filled": false, "size": 256, "strokeWidth": 3.5, "opacity": 1},
      "encoding": {"stroke": {"field": "k", "type": "nominal", "legend": null}}
    },
    {
      "data": {"name": "downhead"},
      "mark": {"type": "point", "shape": "M-1,-1L0,0L1,-1", "filled": false, "size": 256, "strokeWidth": 3.5, "opacity": 1, "color": "#FFD966"},
      "encoding": {}
    },
    {
      "data": {"name": "notes"},
      "transform": [{"filter": {"field": "t", "equal": "07/24: 1.390%"}}],
      "mark": {"type": "text", "font": "Lato", "fontWeight": "bold", "fontSize": 18, "color": "#FF0000"},
      "encoding": {"text": {"field": "t"}}
    },
    {
      "data": {"name": "notes"},
      "transform": [{"filter": {"field": "t", "equal": "06/01: 1.127%"}}],
      "mark": {"type": "text", "font": "Lato", "fontWeight": "bold", "fontSize": 18, "color": "#00B0F0"},
      "encoding": {"text": {"field": "t"}}
    },
    {
      "data": {"name": "notes"},
      "transform": [{"filter": {"field": "t", "equal": "OAT France 2013/05/02: 1.659%"}}],
      "mark": {"type": "text", "font": "Lato", "fontWeight": "bold", "fontSize": 17, "color": "#C00000"},
      "encoding": {"text": {"field": "t"}}
    },
    {
      "data": {"name": "notes"},
      "transform": [{"filter": {"field": "t", "equal": "12/10: 0.362%"}}],
      "mark": {"type": "text", "font": "Lato", "fontWeight": "bold", "fontSize": 18, "color": "#00B050"},
      "encoding": {"text": {"field": "t"}}
    },
    {
      "data": {"name": "notes"},
      "transform": [{"filter": {"field": "t", "equal": "USA"}}],
      "mark": {"type": "text", "font": "Lato", "fontWeight": "bold", "fontSize": 27, "color": "#FF0000"},
      "encoding": {"text": {"field": "t"}}
    },
    {
      "data": {"name": "notes"},
      "transform": [{"filter": {"field": "t", "equal": "France"}}],
      "mark": {"type": "text", "font": "Lato", "fontWeight": "bold", "fontSize": 24, "color": "#C00000"},
      "encoding": {"text": {"field": "t"}}
    },
    {
      "data": {"name": "notes"},
      "transform": [{"filter": {"field": "t", "equal": "Bund"}}],
      "mark": {"type": "text", "font": "Lato", "fontWeight": "bold", "fontSize": 24, "color": "#00B0F0"},
      "encoding": {"text": {"field": "t"}}
    },
    {
      "data": {"name": "notes"},
      "transform": [{"filter": {"field": "t", "equal": "Switzerland"}}],
      "mark": {"type": "text", "font": "Lato", "fontWeight": "bold", "fontSize": 24, "color": "#00B050"},
      "encoding": {"text": {"field": "t"}}
    },
    {
      "data": {"name": "notes"},
      "transform": [{"filter": {"field": "t", "oneOf": ["07/21:", "1.455%"]}}],
      "mark": {"type": "text", "font": "Lato", "fontWeight": "bold", "fontSize": 16, "color": "#C00000", "align": "left"},
      "encoding": {"text": {"field": "t"}}
    },
    {
      "data": {"name": "notes"},
      "transform": [{"filter": {"field": "t", "equal": "© Chevallier.biz"}}],
      "mark": {"type": "text", "font": "Liberation Serif", "fontStyle": "italic", "fontWeight": "normal", "fontSize": 37, "color": "#FF0000", "angle": 347},
      "encoding": {"text": {"field": "t"}}
    },
    {
      "data": {"name": "underline"},
      "mark": {"type": "line", "color": "#FF0000", "strokeWidth": 3, "clip": false},
      "encoding": {}
    }
  ],
  "config": {
    "locale": {
      "number": {"decimal": ",", "thousands": " ", "grouping": [3], "currency": ["", " €"]},
      "time": {
        "dateTime": "%A %e %B %Y à %X",
        "date": "%d/%m/%Y",
        "time": "%H:%M:%S",
        "periods": ["AM", "PM"],
        "days": ["dimanche", "lundi", "mardi", "mercredi", "jeudi", "vendredi", "samedi"],
        "shortDays": ["dim.", "lun.", "mar.", "mer.", "jeu.", "ven.", "sam."],
        "months": ["janvier", "février", "mars", "avril", "mai", "juin", "juillet", "août", "septembre", "octobre", "novembre", "décembre"],
        "shortMonths": ["janv.", "févr.", "mars", "avr.", "mai", "juin", "juil.", "août", "sept.", "oct.", "nov.", "déc."]
      }
    },
    "view": {"stroke": "#008000", "strokeWidth": 1, "fill": "white"},
    "text": {"align": "center", "baseline": "middle"}
  }
}
